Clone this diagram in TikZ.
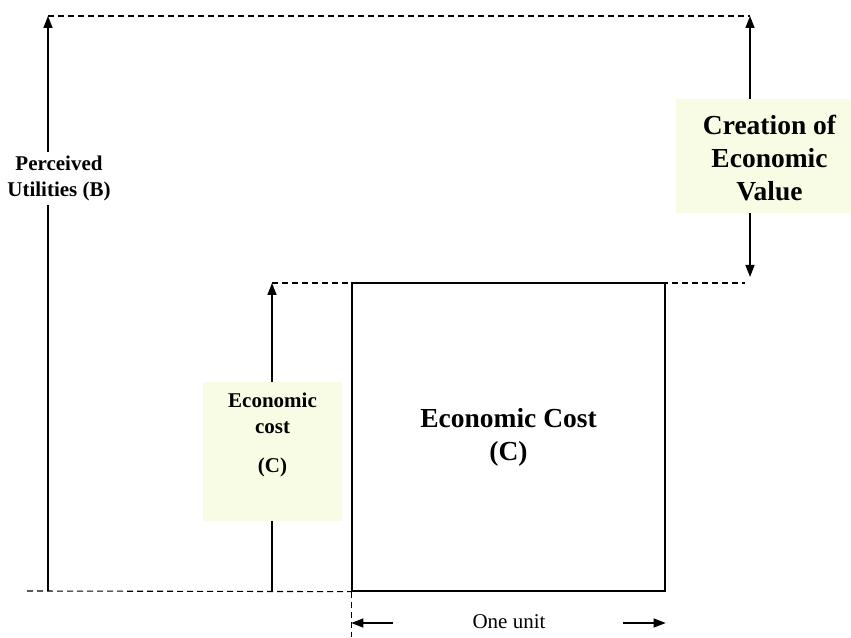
\documentclass[tikz,border=0pt]{standalone}
\usepackage{fontspec}
\setmainfont{Liberation Serif}
\usetikzlibrary{arrows.meta}
\definecolor{paleyellow}{RGB}{249,252,229}
\begin{document}
\begin{tikzpicture}[x=1pt,y=1pt]
	\tikzstyle{Dash} = [dash pattern=on 6pt off 4pt, line width=1.1pt]
	\tikzstyle{Line} = [line width=1.5pt]
	\tikzstyle{Axis} = [line width=1.5pt, -{Triangle[length=12pt,width=9pt]}]
	\tikzstyle{Note} = [fill=paleyellow, inner sep=0pt]
	\tikzstyle{Small} = [font=\bfseries\fontsize{21}{26}\selectfont, align=center]
	\tikzstyle{Large} = [font=\bfseries\fontsize{27.5}{33}\selectfont, align=center]
	\useasboundingbox (0,0) rectangle (851,637);
	\coordinate (B0) at (48,46);
	\coordinate (B1) at (48,621);
	\coordinate (R1) at (750,621);
	\coordinate (R0) at (750,360);
	\coordinate (C0) at (272,46);
	\coordinate (C1) at (272,354);
	\coordinate (D1) at (745,354);
	\coordinate (A0) at (27,46);
	\node (cost) at (508.5,200) [draw, line width=1.3pt, minimum width=313, minimum height=308, Large] {Economic Cost\\(C)};
	\coordinate (E0) at (cost.south west |- 0,0);
	% dashed guides
	\draw [Dash] (B1) -- (R1);
	\draw [Dash] (C1) -- (D1);
	\draw [Dash] (A0) -- (cost.south west);
	\draw [Dash] (cost.south west) -- (E0);
	% perceived utilities
	\node (PU) at (59,458.5) [Small] {Perceived\\Utilities (B)};
	\draw [Line] (B0) -- (B0 |- PU.south);
	\draw [Axis] (B1 |- PU.north) -- (B1);
	% creation of economic value
	\node (CEVbox) at (763.5,481) [Note, minimum width=175, minimum height=114] {};
	\node (CEV) at (769.5,478.5) [Large] {Creation of\\Economic\\Value};
	\draw [Axis] (CEVbox.north -| R1) -- (R1);
	\draw [Axis] (CEVbox.south -| R0) -- (R0);
	% economic cost label
	\node (ECbox) at (272.5,185.5) [Note, minimum width=139, minimum height=139] {};
	\node (EC) at (272.5,202) [Small] {Economic\\cost\\[13pt](C)};
	\draw [Line] (C0) -- (ECbox.south -| C0);
	\draw [Axis] (ECbox.north -| C0) -- (C1);
	% one unit
	\node (unit) at (509,15) [font=\fontsize{21}{26}\selectfont] {One unit};
	\coordinate (UL) at (393,14);
	\coordinate (UR) at (623,14);
	\draw [Axis] (UL) -- (UL -| cost.west);
	\draw [Axis] (UR) -- (UR -| cost.east);
\end{tikzpicture}
\end{document}
